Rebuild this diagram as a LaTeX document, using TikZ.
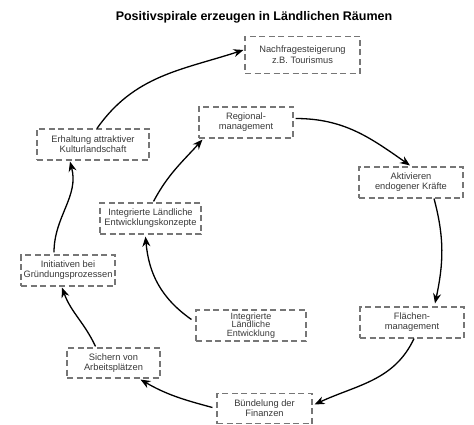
\documentclass[tikz,border=0pt]{standalone}
\usepackage{fontspec}
\setmainfont{Liberation Sans}
\usetikzlibrary{arrows.meta}
\definecolor{txt}{HTML}{383838}
\definecolor{frame}{HTML}{767676}
\begin{document}
\begin{tikzpicture}[x=1pt,y=-1pt,
  box/.style={draw=frame, line width=1.1pt, dash pattern=on 6pt off 3.5pt,
    text=txt, align=center, inner sep=0pt, font=\fontsize{9.3}{10}\selectfont},
  conn/.style={line width=1.3pt, -{Stealth[length=10pt,width=8pt]}}]
\useasboundingbox (0,0) rectangle (474,425);
\node[font=\bfseries\fontsize{12.5}{14}\selectfont] (title) at (254,17) {Positivspirale erzeugen in Ländlichen Räumen};
\node[box, minimum width=115pt, minimum height=37pt, font=\fontsize{9.3}{11}\selectfont] (nach) at (302.5,55) {Nachfragesteigerung\\z.B. Tourismus};
\node[box, minimum width=112pt, minimum height=31pt] (erh) at (93,144.5) {Erhaltung attraktiver\\Kulturlandschaft};
\node[box, minimum width=94pt, minimum height=31pt] (reg) at (246,122.5) {Regional-\\management};
\node[box, minimum width=104pt, minimum height=31pt] (akt) at (411,182.5) {Aktivieren\\endogener Kräfte};
\node[box, minimum width=101pt, minimum height=31pt] (ilek) at (150.5,218.5) {Integrierte Ländliche\\Entwicklungskonzepte};
\node[box, minimum width=94pt, minimum height=31pt] (ini) at (68,270.5) {Initiativen bei\\Gründungsprozessen};
\node[box, minimum width=93pt, minimum height=30pt] (sich) at (113.5,363) {Sichern von\\Arbeitsplätzen};
\node[box, minimum width=110pt, minimum height=31pt, font=\fontsize{9}{8.6}\selectfont] (ile) at (251,325.5) {Integrierte\\Ländliche\\Entwicklung};
\node[box, minimum width=104pt, minimum height=31pt] (fla) at (412,322.5) {Flächen-\\management};
\node[box, minimum width=95pt, minimum height=30pt] (bue) at (264.5,408.5) {Bündelung der\\Finanzen};

\draw[conn] ([xshift=4pt]erh.north) to[out=55,in=198] ([yshift=5pt,xshift=-1pt]nach.west);
\draw[conn] ([yshift=4pt,xshift=2pt]reg.east) to[out=0,in=145] ([xshift=-1pt,yshift=1pt]akt.north);
\draw[conn] ([xshift=23pt]akt.south) to[out=-75,in=78] ([xshift=23pt,yshift=3pt]fla.north);
\draw[conn] ([xshift=2pt]fla.south) to[out=-115,in=25] ([xshift=2pt,yshift=4pt]bue.east);
\draw[conn] ([xshift=-4pt,yshift=1pt]bue.west) to[out=165,in=-30] ([xshift=27pt,yshift=-1pt]sich.south);
\draw[conn] ([xshift=-18pt,yshift=1pt]sich.north) to[out=115,in=-70] ([xshift=-6pt,yshift=-1pt]ini.south);
\draw[conn] ([xshift=-14pt,yshift=2pt]ini.north) to[out=90,in=-75] ([xshift=-23pt,yshift=-1pt]erh.south);
\draw[conn] ([xshift=-4pt,yshift=6pt]ile.west) to[out=145,in=-85] ([xshift=-5pt,yshift=-2pt]ilek.south);
\draw[conn] ([xshift=3pt,yshift=1pt]ilek.north) to[out=62,in=-132] ([xshift=4pt,yshift=-1pt]reg.south west);
\end{tikzpicture}
\end{document}
